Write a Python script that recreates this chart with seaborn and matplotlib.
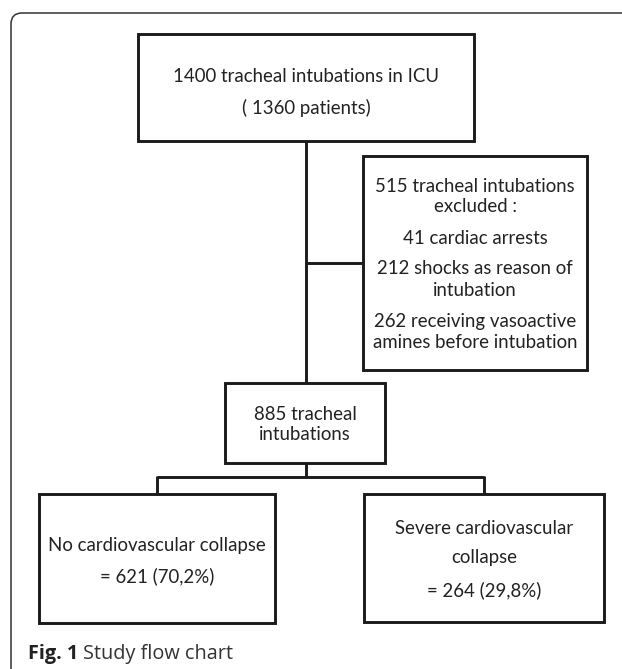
from matplotlib import pyplot as plt
from matplotlib.patches import Rectangle, FancyBboxPatch
import seaborn as sns

# flow counts
n_intubations = 1400
n_patients = 1360
n_cardiac_arrest = 41
n_shock = 212
n_amines = 262
n_excluded = n_cardiac_arrest + n_shock + n_amines
n_included = n_intubations - n_excluded
n_no_collapse = 621
n_collapse = n_included - n_no_collapse


def pct(n):
    return f"{100 * n / n_included:.1f}".replace(".", ",")


top_lines = [f"{n_intubations} tracheal intubations in ICU", f"( {n_patients} patients)"]
excl_lines = [
    f"{n_excluded} tracheal intubations",
    "excluded :",
    f"{n_cardiac_arrest} cardiac arrests",
    f"{n_shock} shocks as reason of",
    "intubation",
    f"{n_amines} receiving vasoactive",
    "amines before intubation",
]
incl_lines = [f"{n_included} tracheal", "intubations"]
left_lines = ["No cardiovascular collapse", f"= {n_no_collapse} ({pct(n_no_collapse)}%)"]
right_lines = ["Severe cardiovascular", "collapse", f"= {n_collapse} ({pct(n_collapse)}%)"]

sns.set_theme(style="white")
plt.rcParams["font.family"] = ["Lato", "DejaVu Sans"]

W, H = 622, 669
fig = plt.figure(figsize=(W / 100, H / 100), dpi=100)
ax = fig.add_axes([0, 0, 1, 1])
ax.set_xlim(0, W)
ax.set_ylim(H, 0)
ax.axis("off")

ink = "#1b1b1b"
txt = "#222222"

# outer frame, only top-left corner visible
frame = FancyBboxPatch((11, 13), 800, 800, boxstyle="round,pad=0,rounding_size=11",
                       fill=False, ec="#333333", lw=1.1)
ax.add_patch(frame)


def box(x0, y0, x1, y1):
    ax.add_patch(Rectangle((x0, y0), x1 - x0, y1 - y0, fill=False, ec=ink, lw=2.1,
                           joinstyle="miter"))


def lines(xc, ys, labels, size=13.4):
    for y, s in zip(ys, labels):
        ax.text(xc, y, s, ha="center", va="center", fontsize=size, color=txt)


def seg(xs, ys):
    ax.plot(xs, ys, color=ink, lw=2.1, solid_capstyle="butt")


# boxes
box(138, 34, 474, 141)
box(363, 156, 587, 370)
box(225, 383, 385, 463)
box(39, 494, 275, 623)
box(364, 494, 604, 622)

# connectors
seg([306, 306], [141, 383])
seg([306, 363], [263, 263])
seg([306, 306], [463, 477])
seg([157, 484], [477, 477])
seg([157, 157], [476, 494])
seg([484, 484], [476, 494])

# texts
lines(306, [76, 108], top_lines)
lines(475, [186, 207, 238, 268, 290, 321, 343], excl_lines)
lines(305, [414, 435], incl_lines)
lines(157, [546, 576], left_lines)
lines(484, [529, 558, 590], right_lines)

# caption
t1 = ax.text(28, 654, "Fig. 1", ha="left", va="center", fontsize=14.3, fontweight="bold",
             color="#222222", family=["Open Sans", "DejaVu Sans"])
fig.canvas.draw()
bb = t1.get_window_extent()
x_end = ax.transData.inverted().transform((bb.x1, bb.y0))[0]
ax.text(x_end + 5, 654, "Study flow chart", ha="left", va="center", fontsize=14.3,
        color="#333333", family=["Open Sans", "DejaVu Sans"])

fig.savefig("out.png", dpi=100)
